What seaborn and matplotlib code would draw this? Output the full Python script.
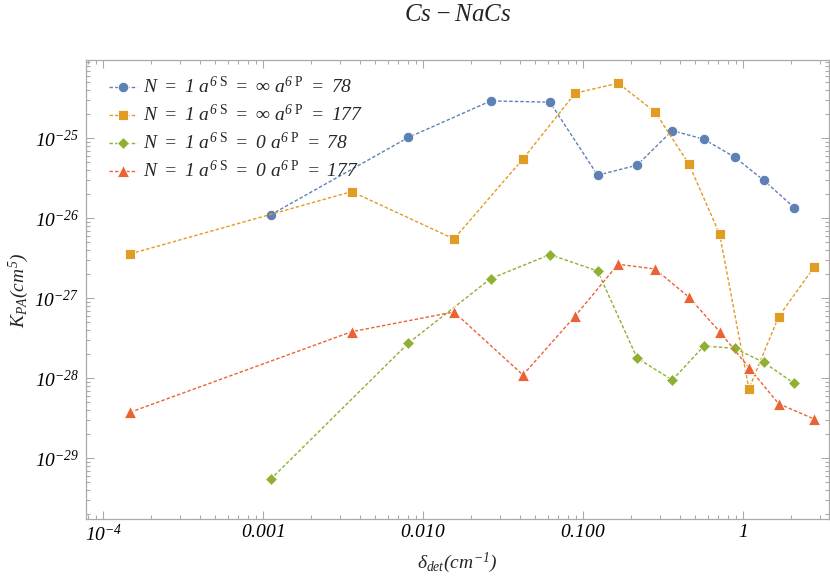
import matplotlib
matplotlib.use("Agg")
import matplotlib.pyplot as plt
import matplotlib.ticker as mticker
import seaborn as sns
import pandas as pd

# ---------------- data ----------------
x_a = [0.00111, 0.00806, 0.0264, 0.0619, 0.123, 0.217, 0.36, 0.568, 0.883, 1.34, 2.08]
x_b = [1.47e-4, 0.00357, 0.01556, 0.042, 0.0891, 0.165, 0.281, 0.458, 0.712, 1.085, 1.664, 2.77]

inf_78 = [1.10e-26, 1.02e-25, 2.92e-25, 2.82e-25, 3.45e-26, 4.6e-26, 1.245e-25,
          9.7e-26, 5.8e-26, 2.99e-26, 1.36e-26]
inf_177 = [3.58e-27, 2.15e-26, 5.51e-27, 5.51e-26, 3.65e-25, 4.87e-25, 2.13e-25,
           4.73e-26, 6.31e-27, 7.35e-29, 5.89e-28, 2.44e-27]
zero_78 = [5.46e-30, 2.74e-28, 1.76e-27, 3.51e-27, 2.19e-27, 1.79e-28, 9.52e-29,
           2.53e-28, 2.37e-28, 1.585e-28, 8.66e-29]
zero_177 = [3.76e-29, 3.82e-28, 6.74e-28, 1.10e-28, 6.01e-28, 2.66e-27, 2.32e-27,
            1.03e-27, 3.82e-28, 1.36e-28, 4.81e-29, 3.10e-29]

labels = [r"$N\ =\ 1\ a^{6\ \mathsf{S}}\ =\ \infty\ a^{6\ \mathsf{P}}\ =\ 78$",
          r"$N\ =\ 1\ a^{6\ \mathsf{S}}\ =\ \infty\ a^{6\ \mathsf{P}}\ =\ 177$",
          r"$N\ =\ 1\ a^{6\ \mathsf{S}}\ =\ 0\ a^{6\ \mathsf{P}}\ =\ 78$",
          r"$N\ =\ 1\ a^{6\ \mathsf{S}}\ =\ 0\ a^{6\ \mathsf{P}}\ =\ 177$"]

xticks = [1e-4, 1e-3, 1e-2, 1e-1, 1]
xtick_labels = [r"$10^{-4}$", "$0.001$", "$0.010$", "$0.100$", "$1$"]
yticks = [1e-29, 1e-28, 1e-27, 1e-26, 1e-25]
ytick_labels = [r"$10^{-29}$", r"$10^{-28}$", r"$10^{-27}$", r"$10^{-26}$", r"$10^{-25}$"]

# ---------------- style ----------------
sns.set_theme(style="ticks")
plt.rcParams["font.family"] = ["Liberation Serif", "DejaVu Serif"]
plt.rcParams["font.style"] = "italic"
plt.rcParams["mathtext.fontset"] = "custom"
plt.rcParams["mathtext.rm"] = "Liberation Serif:italic"
plt.rcParams["mathtext.it"] = "Liberation Serif:italic"
plt.rcParams["mathtext.sf"] = "Liberation Serif:style=normal"
plt.rcParams["mathtext.bf"] = "Liberation Serif:bold"
plt.rcParams["mathtext.default"] = "it"

colors = ["#5E81B5", "#E19C24", "#8FB032", "#EB6235"]
markers = ["o", "s", "D", "^"]
msizes = [7.5, 7.5, 6.5, 8.0]
frame_col = "#aaaaaa"

fig = plt.figure(figsize=(8.3, 5.8), dpi=100)
ax = fig.add_axes([86 / 830, 1 - 519.3 / 580, (829.3 - 86) / 830, (519.3 - 60.3) / 580])

series = [(x_a, inf_78), (x_b, inf_177), (x_a, zero_78), (x_b, zero_177)]
for i, (xs, ys) in enumerate(series):
    df = pd.DataFrame({"x": xs, "y": ys})
    sns.lineplot(data=df, x="x", y="y", ax=ax, sort=False, errorbar=None,
                 color=colors[i], marker=markers[i], markersize=msizes[i],
                 markeredgecolor="white", markeredgewidth=0.6,
                 linestyle=(0, (2.5, 1.5)), linewidth=1.0, label=labels[i])

ax.set_xscale("log")
ax.set_yscale("log")
ax.set_xlim(7.8e-5, 3.45)
ax.set_ylim(1.73e-30, 9.4e-25)

ax.xaxis.set_major_locator(mticker.FixedLocator(xticks))
ax.xaxis.set_major_formatter(mticker.FixedFormatter(xtick_labels))
ax.yaxis.set_major_locator(mticker.FixedLocator(yticks))
ax.yaxis.set_major_formatter(mticker.FixedFormatter(ytick_labels))
ax.xaxis.set_minor_locator(mticker.LogLocator(base=10, subs=range(2, 10), numticks=20))
ax.yaxis.set_minor_locator(mticker.LogLocator(base=10, subs=range(2, 10), numticks=20))
ax.xaxis.set_minor_formatter(mticker.NullFormatter())
ax.yaxis.set_minor_formatter(mticker.NullFormatter())

ax.tick_params(which="both", direction="in", top=True, right=True, color=frame_col,
               labelsize=14, labelcolor="black", width=0.8)
ax.tick_params(which="major", length=6)
ax.tick_params(which="minor", length=3)
ax.tick_params(axis="y", which="major", pad=5)
for s in ax.spines.values():
    s.set_color(frame_col)
    s.set_linewidth(0.9)

ax.set_xlabel(r"$\delta_{det}(cm^{-1})$", fontsize=14, labelpad=4)
ax.set_ylabel(r"$K_{PA}(cm^{5})$", fontsize=14, labelpad=2)
ax.set_title(r"$Cs-NaCs$", fontsize=18, pad=28)

leg = ax.legend(loc="upper left", bbox_to_anchor=(0.031, 0.965), frameon=False,
                fontsize=14, handlelength=1.45, handletextpad=0.3,
                borderpad=0, borderaxespad=0, labelspacing=0.35)

fig.savefig("out.png", dpi=100)
